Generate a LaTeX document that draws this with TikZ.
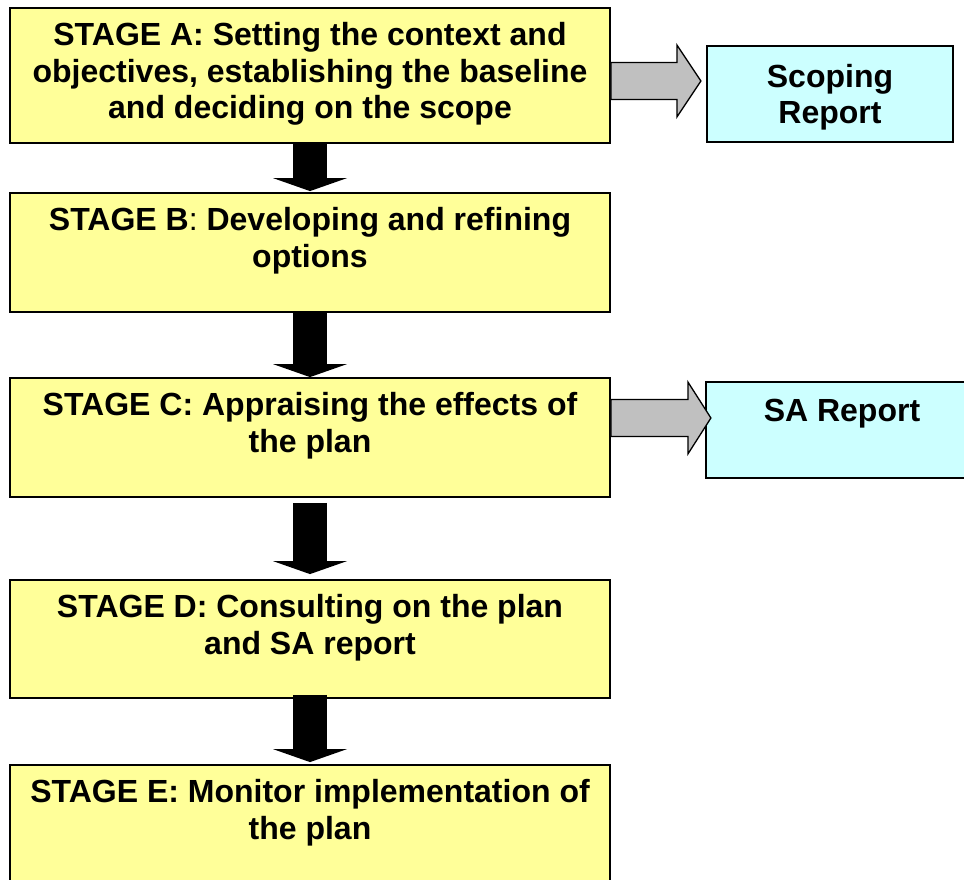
\documentclass[tikz,border=0pt]{standalone}
\usepackage{fontspec}
\setmainfont{Liberation Sans}
\usetikzlibrary{arrows.meta, positioning}
\definecolor{stageyellow}{HTML}{FFFF99}
\definecolor{reportcyan}{HTML}{CCFFFF}
\definecolor{pointgray}{HTML}{C0C0C0}

\begin{document}
\begin{tikzpicture}[x=1pt, y=1pt,
  stagebox/.style={draw, line width=1.8pt, fill=stageyellow, minimum width=600pt, inner sep=0pt},
  reportbox/.style={draw, line width=1.8pt, fill=reportcyan, minimum height=96pt, inner sep=0pt},
  boxtext/.style={inner sep=0pt, align=center, font=\fontsize{32}{36.5}\selectfont\bfseries},
  downarrow/.style={line width=34pt, -{Triangle[width=74pt, length=13pt, line width=0pt]}},
  sidearrow/.style={draw, line width=1.3pt, fill=pointgray, line join=miter}]
  \path[use as bounding box, clip] (0,0) rectangle (964,879);
  % stages
  \node[stagebox, minimum height=135pt] (A) at (310,803.5) {};
  \node[stagebox, minimum height=119pt] (B) at (310,626.5) {};
  \node[stagebox, minimum height=119pt] (C) at (310,441.5) {};
  \node[stagebox, minimum height=118pt] (D) at (310,240) {};
  \node[stagebox, minimum height=119pt] (E) at (310,54.5) {};
  \node[boxtext, below=15.5pt of A.north] (A-txt) {STAGE A: Setting the context and\\objectives, establishing the baseline\\and deciding on the scope};
  \node[boxtext, below=15.5pt of B.north] (B-txt) {STAGE B{\mdseries:} Developing and refining\\options};
  \node[boxtext, below=15.5pt of C.north] (C-txt) {STAGE C: Appraising the effects of\\the plan};
  \node[boxtext, below=15.5pt of D.north] (D-txt) {STAGE D: Consulting on the plan\\and SA report};
  \node[boxtext, below=15.5pt of E.north] (E-txt) {STAGE E: Monitor implementation of\\the plan};
  % reports
  \node[reportbox, minimum width=246pt] (S) at (830,785) {};
  \node[boxtext, below=19pt of S.north] (S-txt) {Scoping\\Report};
  \node[reportbox, minimum width=272pt] (R) at (842,449) {};
  \node[boxtext, below=18pt of R.north] (R-txt) {SA Report};
  % stage to stage
  \draw[downarrow, shorten >=1pt] (A) -- (B);
  \draw[downarrow] (B) -- (C);
  \draw[downarrow, shorten <=5pt, shorten >=5pt] (C) -- (D);
  \draw[downarrow, shorten <=-4pt, shorten >=2pt] (D) -- (E);
  % stage to report
  \draw[sidearrow] ([yshift=13pt]A.east) -- ++(66,0) -- ++(0,17.5) -- ++(24,-36) -- ++(-24,-36) -- ++(0,17.5) -- ++(-66,0) -- cycle;
  \draw[sidearrow] ([yshift=38pt]C.east) -- ++(77,0) -- ++(0,17.5) -- ++(23,-36) -- ++(-23,-36) -- ++(0,17.5) -- ++(-77,0) -- cycle;
\end{tikzpicture}
\end{document}
